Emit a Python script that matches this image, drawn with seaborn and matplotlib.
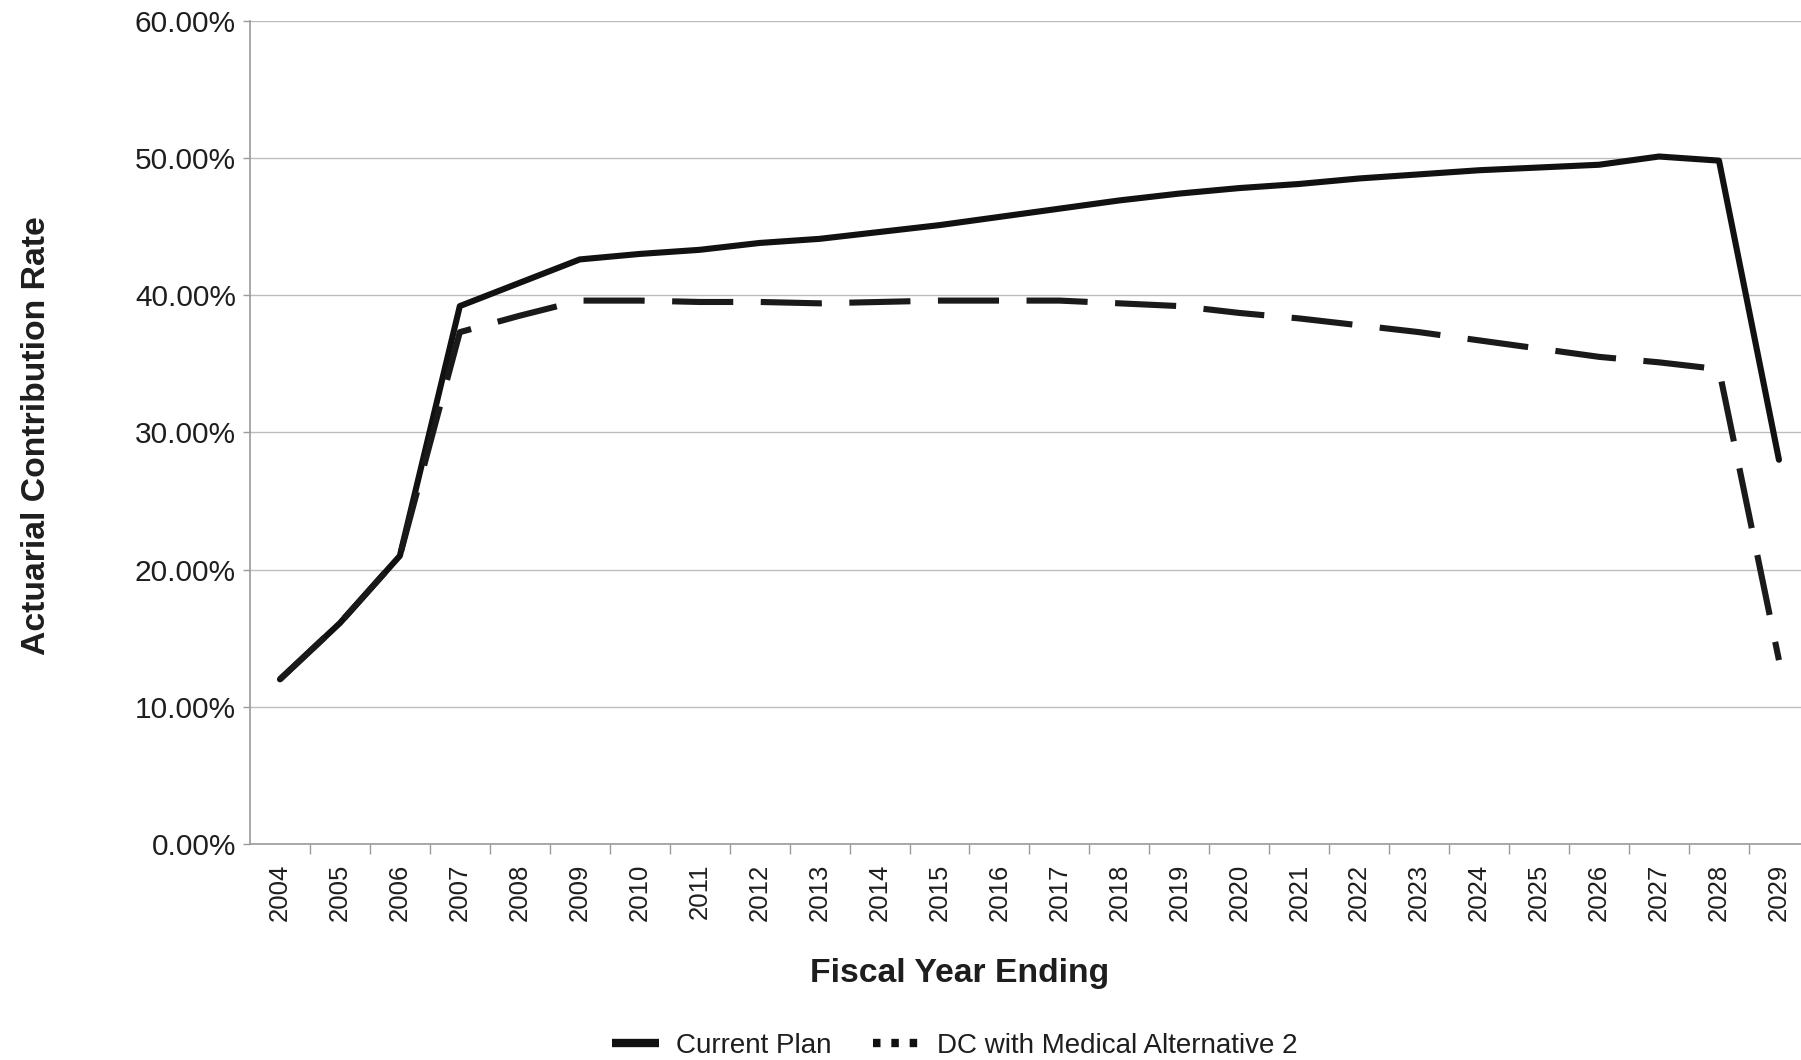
import matplotlib
matplotlib.use("Agg")
import matplotlib.pyplot as plt
from matplotlib.lines import Line2D
from matplotlib.ticker import FuncFormatter, MultipleLocator
import pandas as pd
import seaborn as sns

# -----------------------------
# Dados (taxa de contribuição atuarial, %)
# -----------------------------
anos = list(range(2004, 2030))
current_plan = [12.0, 16.1, 21.0, 39.2, 40.9, 42.6, 43.0, 43.3, 43.8, 44.1,
                44.6, 45.1, 45.7, 46.3, 46.9, 47.4, 47.8, 48.1, 48.5, 48.8,
                49.1, 49.3, 49.5, 50.1, 49.8, 28.0]
dc_medical_alt2 = [12.0, 16.1, 21.0, 37.3, 38.5, 39.6, 39.6, 39.5, 39.5, 39.4,
                   39.5, 39.6, 39.6, 39.6, 39.4, 39.2, 38.7, 38.3, 37.8, 37.3,
                   36.7, 36.1, 35.5, 35.1, 34.6, 13.4]
series_names = ["Current Plan", "DC with Medical Alternative 2"]

df = pd.DataFrame({
    "ano": anos * 2,
    "taxa": current_plan + dc_medical_alt2,
    "serie": [series_names[0]] * len(anos) + [series_names[1]] * len(anos),
})

sns.set_style("white")
plt.rcParams["font.family"] = ["Liberation Sans", "DejaVu Sans"]

fig = plt.figure(figsize=(18.01, 10.6), dpi=100)
ax = fig.add_axes([0.1388, 0.2038, 0.8656, 0.7767])

sns.lineplot(
    data=df, x="ano", y="taxa", hue="serie", style="serie",
    palette={series_names[0]: "#111111", series_names[1]: "#1a1a1a"},
    dashes={series_names[0]: "", series_names[1]: (10, 4.5)},
    linewidth=4.4, legend=False, ax=ax, zorder=3,
)

ax.set_xlim(anos[0] - 0.5, anos[-1] + 0.5)
ax.set_ylim(0, 60)
ax.yaxis.set_major_locator(MultipleLocator(10))
ax.yaxis.set_major_formatter(FuncFormatter(lambda v, p: f"{v:.2f}%"))
ax.grid(axis="y", color="#bdbdbd", linewidth=1.0)
ax.set_axisbelow(True)

ax.set_xticks(anos)
ax.set_xticklabels([str(a) for a in anos], rotation=90)
ax.set_xticks([a + 0.5 for a in anos[:-1]], minor=True)
ax.tick_params(axis="x", which="major", length=0, pad=14, labelsize=18.5,
               labelcolor="#1e1e1e")
ax.tick_params(axis="x", which="minor", length=7, width=1, color="#9a9a9a",
               direction="out")
ax.tick_params(axis="y", which="major", length=5, width=1, color="#9a9a9a",
               direction="out", pad=5, labelsize=21.5, labelcolor="#1e1e1e")
ax.xaxis.set_ticks_position("bottom")
ax.yaxis.set_ticks_position("left")

for lado in ["top", "right"]:
    ax.spines[lado].set_visible(False)
for lado in ["left", "bottom"]:
    ax.spines[lado].set_color("#9a9a9a")
    ax.spines[lado].set_linewidth(1.2)

ax.set_xlabel("Fiscal Year Ending", fontsize=24.3, fontweight="bold",
              color="#1e1e1e")
ax.xaxis.set_label_coords(0.455, -0.139)
ax.set_ylabel("Actuarial Contribution Rate", fontsize=24.3, fontweight="bold",
              color="#1e1e1e")
ax.yaxis.set_label_coords(-0.127, 0.4955)

handles = [
    Line2D([], [], color="#111111", linewidth=6, solid_capstyle="butt"),
    Line2D([], [], color="#111111", linewidth=6, linestyle=(0, (0.9, 1.3))),
]
fig.legend(handles, series_names, loc="center", bbox_to_anchor=(0.53, 0.013),
           ncol=2, frameon=False, fontsize=20, handlelength=1.7,
           columnspacing=1.5, handletextpad=0.6, labelcolor="#1e1e1e")

fig.savefig("out.png", dpi=100)
plt.close(fig)
